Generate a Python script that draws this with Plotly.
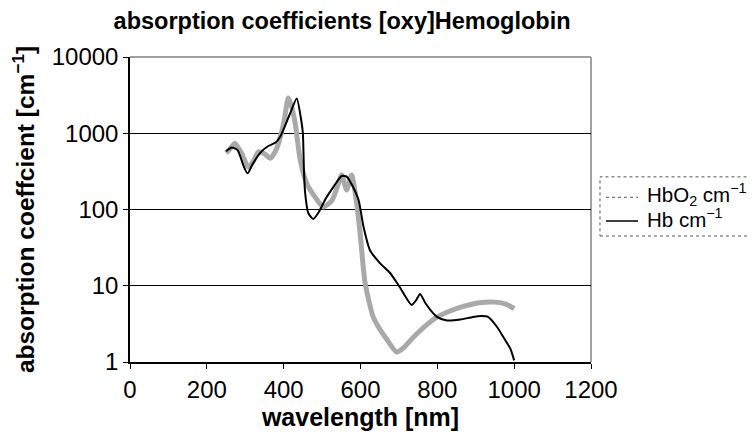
import plotly.graph_objects as go

# HbO2 (oxy-hemoglobin) absorption, cm^-1
wl_hbo2 = [250, 260, 273, 290, 308, 320, 334, 350, 365, 380, 400, 412, 420, 430, 443,
           460, 480, 503, 525, 540, 551, 564, 577, 590, 599, 612, 633, 650, 668, 694,
           710, 737, 770, 800, 830, 870, 910, 950, 980, 1000]
hbo2 = [550, 620, 740, 550, 360, 420, 570, 540, 470, 600, 1350, 2900, 2300, 1350, 450,
        220, 150, 108, 130, 200, 283, 180, 283, 120, 49, 10.8, 3.9, 2.7, 2.0, 1.35,
        1.5, 2.1, 3.0, 3.9, 4.6, 5.4, 6.0, 6.1, 5.7, 5.0]

# Hb (deoxy-hemoglobin) absorption, cm^-1
wl_hb = [250, 265, 280, 295, 306, 320, 340, 360, 378, 391, 417, 434, 447, 450, 453,
         456, 464, 477, 490, 510, 530, 551, 564, 580, 595, 608, 625, 650, 677, 700,
         733, 745, 755, 770, 799, 825, 860, 893, 915, 932, 955, 975, 990, 1000]
hb = [580, 650, 600, 380, 298, 400, 560, 680, 750, 900, 1830, 2860, 1340, 1000, 300,
      163, 90, 75, 90, 140, 200, 275, 270, 200, 133, 59, 29, 20, 14.7, 10,
      5.6, 6.5, 7.8, 5.8, 3.9, 3.5, 3.6, 3.9, 4.0, 3.9, 2.9, 2.0, 1.5, 1.05]

x_ticks = [0, 200, 400, 600, 800, 1000, 1200]
y_ticks = [1, 10, 100, 1000, 10000]
y_ticktext = ["1", "10", "100", "1000", "10000"]

legend_names = ["HbO<sub>2</sub> cm<sup>−1</sup>", "Hb cm<sup>−1</sup>"]

FONT = "Liberation Sans, Arial, sans-serif"

fig = go.Figure()
fig.add_trace(go.Scatter(x=wl_hbo2, y=hbo2, mode="lines", name=legend_names[0], showlegend=False,
                         line=dict(color="#a9a9a9", width=5, shape="spline", smoothing=0.6)))
fig.add_trace(go.Scatter(x=wl_hb, y=hb, mode="lines", name=legend_names[1], showlegend=False,
                         line=dict(color="black", width=2, shape="spline", smoothing=0.6)))

# hand-drawn legend (paper coordinates)
leg_rows_y = [0.54, 0.462]
leg_styles = [dict(color="#555555", width=1, dash="dot"), dict(color="black", width=1.5)]
shapes = [
    dict(type="line", xref="paper", yref="paper", x0=0, x1=1, y0=1, y1=1,
         line=dict(color="#a0a0a0", width=2), layer="below"),
    dict(type="line", xref="paper", yref="paper", x0=1, x1=1, y0=0, y1=1,
         line=dict(color="#a0a0a0", width=2), layer="below"),
    dict(type="rect", xref="paper", yref="paper", x0=1.0195, x1=1.355, y0=0.413, y1=0.607,
         line=dict(color="#555555", width=1, dash="dot")),
]
annotations = []
for name, ry, st in zip(legend_names, leg_rows_y, leg_styles):
    shapes.append(dict(type="line", xref="paper", yref="paper", x0=1.0325, x1=1.102,
                       y0=ry, y1=ry, line=st))
    annotations.append(dict(text=name, xref="paper", yref="paper", x=1.118, y=ry + 0.01,
                            xanchor="left", yanchor="middle", showarrow=False,
                            font=dict(size=20.5, family=FONT, color="black")))

fig.update_layout(
    width=756, height=434,
    margin=dict(l=122, r=173, t=49, b=80),
    paper_bgcolor="white", plot_bgcolor="white",
    font=dict(family=FONT, color="black", size=24),
    showlegend=False,
    title=dict(text="<b>absorption coefficients [oxy]Hemoglobin</b>", x=0.46, xref="paper",
               xanchor="center", y=0.97, yref="container", yanchor="middle",
               font=dict(family=FONT, size=23.5, color="black")),
    xaxis=dict(range=[0, 1200], tickvals=x_ticks, showgrid=False, zeroline=False,
               showline=True, linecolor="black", linewidth=1.5,
               ticks="outside", ticklen=5, tickcolor="black",
               tickfont=dict(size=24),
               title=dict(text="<b>wavelength [nm]</b>", font=dict(size=25), standoff=2)),
    yaxis=dict(type="log", range=[0, 4], tickvals=y_ticks, ticktext=y_ticktext,
               showgrid=True, gridcolor="black", gridwidth=1, zeroline=False,
               showline=True, linecolor="black", linewidth=1.5,
               ticks="outside", ticklen=5, tickcolor="black",
               tickfont=dict(size=24),
               title=dict(text="<b>absorption coeffcient [cm<sup>−1</sup>]</b>",
                          font=dict(size=24.5), standoff=12)),
    shapes=shapes,
    annotations=annotations,
)

fig.write_html("out.html")
